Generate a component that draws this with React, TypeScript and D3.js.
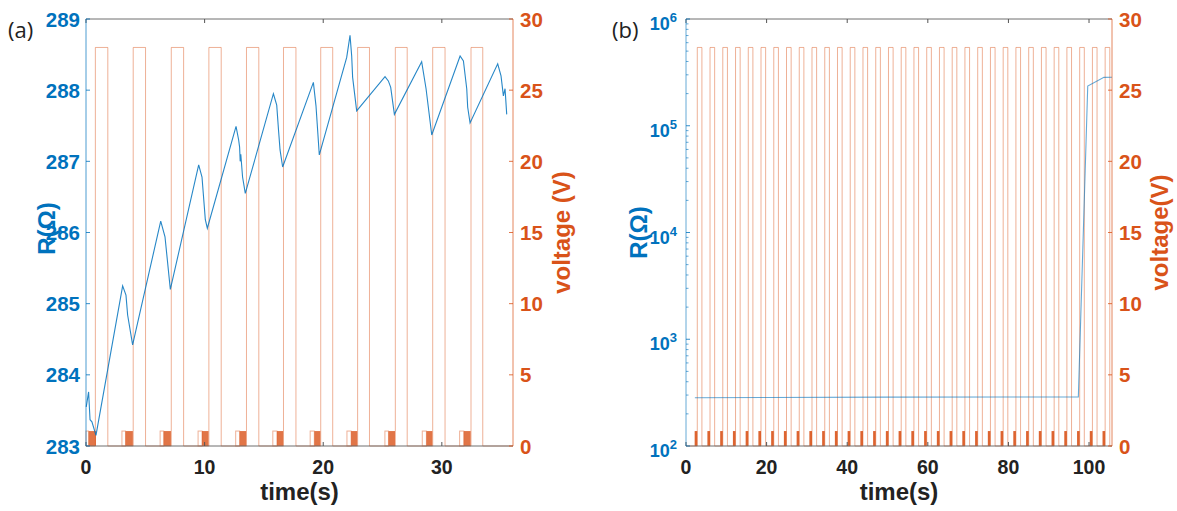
import React from 'react';
import * as d3 from 'd3';

const BLUE = '#0072BD';
const ORANGE = '#D95319';
const FONT = '"Liberation Sans", Arial, Helvetica, sans-serif';

// ---------- Panel (a) data ----------
const tA = [0.02, 0.22, 0.3, 0.34, 0.5, 0.84, 3.09, 3.37, 3.51, 3.93, 6.3, 6.66, 7.11, 9.5, 9.78, 10.06, 10.23,
  12.65, 12.87, 12.95, 13.0, 13.05, 13.2, 13.43, 15.8, 16.08, 16.24, 16.36, 16.58, 19.17, 19.39, 19.67,
  21.98, 22.26, 22.4, 22.48, 22.82, 25.21, 25.49, 25.69, 26.0, 28.3, 28.67, 29.15, 31.54, 31.82, 32.1,
  32.18, 32.38, 34.71, 34.99, 35.19, 35.33, 35.47];
const rA = [283.55, 283.76, 283.5, 283.37, 283.34, 283.15, 285.25, 285.12, 284.84, 284.42, 286.16, 285.94, 285.2,
  286.95, 286.78, 286.18, 286.06, 287.49, 287.3, 287.2, 287.0, 287.1, 286.78, 286.55, 287.95, 287.79, 287.42,
  287.16, 286.92, 288.11, 287.78, 287.09, 288.46, 288.77, 288.48, 288.18, 287.71, 288.19, 288.13, 288.04,
  287.66, 288.4, 288.02, 287.37, 288.48, 288.41, 288.02, 287.76, 287.54, 288.37, 288.2, 287.92, 288.02, 287.66];
const pulseOnA = [0.79, 3.98, 7.19, 10.36, 13.53, 16.65, 19.79, 22.9, 26.08, 29.23, 32.46];
const pulseOffA = [1.84, 5.02, 8.23, 11.4, 14.57, 17.7, 20.8, 23.9, 27.08, 30.27, 33.45];
const clusterStartA = [0.0, 3.03, 6.25, 9.45, 12.62, 15.75, 18.9, 22.0, 25.2, 28.35, 31.5];
const blockStartA = [0.22, 3.33, 6.55, 9.78, 12.95, 16.1, 19.25, 22.35, 25.5, 28.7, 31.85];
const clusterEndA = [0.84, 3.95, 7.16, 10.33, 13.5, 16.62, 19.76, 22.87, 26.05, 29.2, 32.43];
const xTicksA = [0, 10, 20, 30];
const yTicksA = [283, 284, 285, 286, 287, 288, 289];

// ---------- Panel (b) data ----------
const tB = [2.2, 20, 50, 80, 97.35, 99.68, 103.7, 105.7];
const rB = [283, 285, 287, 288, 288, 235000, 284000, 285000];
const pulseOnB = [2.8, 5.96, 9.13, 12.29, 15.45, 18.61, 21.78, 24.94, 28.1, 31.26, 34.43, 37.59, 40.75, 43.91,
  47.08, 50.24, 53.4, 56.56, 59.73, 62.89, 66.05, 69.21, 72.38, 75.54, 78.7, 81.86, 85.03, 88.19, 91.35,
  94.51, 97.68, 100.84, 104.0];
const pulseWidthB = 1.15;
const barStartB = [2.15, 5.31, 8.48, 11.64, 14.8, 17.96, 21.13, 24.29, 27.45, 30.61, 33.78, 36.94, 40.1, 43.26,
  46.43, 49.59, 52.75, 55.91, 59.08, 62.24, 65.4, 68.56, 71.73, 74.89, 78.05, 81.21, 84.38, 87.54, 90.7,
  93.86, 97.03, 100.19, 103.35];
const xTicksB = [0, 20, 40, 60, 80, 100];
const yExpB = [2, 3, 4, 5, 6];

const vTicks = [0, 5, 10, 15, 20, 25, 30];
const V_TOP = 28;
const V_SMALL = 1.05;

const TOP = 19;
const BOTTOM = 446;
const LABEL_SIZE = 24;

function squareWave(on: number[], off: number[], xmax: number): [number, number][] {
  const pts: [number, number][] = [[0, 0]];
  on.forEach((s, i) => {
    pts.push([s, 0], [s, V_TOP], [off[i], V_TOP], [off[i], 0]);
  });
  pts.push([xmax, 0]);
  return pts;
}

function Frame({ x, yV, x0, x1, xTicks }: any) {
  return (
    <g>
      <line x1={x0} x2={x1} y1={TOP} y2={TOP} stroke="#6e6e6e" strokeWidth={1} />
      <line x1={x0} x2={x1} y1={BOTTOM} y2={BOTTOM} stroke="#6e6e6e" strokeWidth={1} />
      {xTicks.map((t: number) => (
        <g key={t}>
          <line x1={x(t)} x2={x(t)} y1={TOP} y2={TOP + 4} stroke="#555" />
          <line x1={x(t)} x2={x(t)} y1={BOTTOM} y2={BOTTOM - 4} stroke="#555" />
          <text x={x(t)} y={473.5} textAnchor="middle" fontFamily={FONT} fontWeight="bold" fontSize={19.5} fill="#222">{t}</text>
        </g>
      ))}
      <line x1={x1} x2={x1} y1={TOP} y2={BOTTOM} stroke={ORANGE} strokeOpacity={0.7} strokeWidth={1} />
      {vTicks.map((v) => (
        <g key={v}>
          <line x1={x1} x2={x1 - 4} y1={yV(v)} y2={yV(v)} stroke={ORANGE} strokeOpacity={0.8} />
          <text x={x1 + 7} y={yV(v) + 7.5} fontFamily={FONT} fontWeight="bold" fontSize={20.5} fill={ORANGE}>{v}</text>
        </g>
      ))}
    </g>
  );
}

function PanelA() {
  const x0 = 86, x1 = 513;
  const x = d3.scaleLinear().domain([0, 36]).range([x0, x1]);
  const yR = d3.scaleLinear().domain([283, 289]).range([BOTTOM, TOP]);
  const yV = d3.scaleLinear().domain([0, 30]).range([BOTTOM, TOP]);
  const vLine = d3.line<[number, number]>().x((d) => x(d[0])).y((d) => yV(d[1]));
  const rLine = d3.line<number>().x((d, i) => x(tA[i])).y((d) => yR(d));
  return (
    <g>
      <path d={vLine(squareWave(pulseOnA, pulseOffA, 36)) || ''} fill="none" stroke={ORANGE} strokeOpacity={0.45} strokeWidth={1} />
      {clusterStartA.map((s, i) => (
        <g key={i}>
          <rect x={x(s)} y={yV(V_SMALL)} width={x(blockStartA[i]) - x(s)} height={yV(0) - yV(V_SMALL)}
            fill="none" stroke={ORANGE} strokeOpacity={0.45} strokeWidth={1} />
          <rect x={x(blockStartA[i])} y={yV(V_SMALL)} width={x(clusterEndA[i]) - x(blockStartA[i])}
            height={yV(0) - yV(V_SMALL)} fill={ORANGE} fillOpacity={0.8} />
        </g>
      ))}
      <path d={rLine(rA) || ''} fill="none" stroke={BLUE} strokeOpacity={0.85} strokeWidth={1.1} />
      <Frame x={x} yV={yV} x0={x0} x1={x1} xTicks={xTicksA} />
      <line x1={x0} x2={x0} y1={TOP} y2={BOTTOM} stroke={BLUE} strokeOpacity={0.7} strokeWidth={1} />
      {yTicksA.map((v) => (
        <g key={v}>
          <line x1={x0} x2={x0 + 4} y1={yR(v)} y2={yR(v)} stroke={BLUE} strokeOpacity={0.8} />
          <text x={80} y={yR(v) + 7.5} textAnchor="end" fontFamily={FONT} fontWeight="bold" fontSize={20.5} fill={BLUE}>{v}</text>
        </g>
      ))}
      <text x={(x0 + x1) / 2} y={500} textAnchor="middle" fontFamily={FONT} fontWeight="bold" fontSize={LABEL_SIZE} fill="#222">time(s)</text>
      <text transform={`translate(55,${(TOP + BOTTOM) / 2 - 4}) rotate(-90)`} textAnchor="middle" fontFamily={FONT} fontWeight="bold" fontSize={LABEL_SIZE} fill={BLUE}>R(Ω)</text>
      <text transform={`translate(570,${(TOP + BOTTOM) / 2}) rotate(-90)`} textAnchor="middle" fontFamily={FONT} fontWeight="bold" fontSize={LABEL_SIZE} fill={ORANGE}>voltage (V)</text>
      <text x={8} y={38} fontFamily='"Open Sans", "Noto Sans", sans-serif' fontSize={22} fill="#222">(a)</text>
    </g>
  );
}

function PanelB() {
  const x0 = 686, x1 = 1112;
  const xmax = 105.7;
  const x = d3.scaleLinear().domain([0, xmax]).range([x0, x1]);
  const yR = d3.scaleLog().domain([100, 1e6]).range([BOTTOM, TOP]);
  const yV = d3.scaleLinear().domain([0, 30]).range([BOTTOM, TOP]);
  const vLine = d3.line<[number, number]>().x((d) => x(d[0])).y((d) => yV(d[1]));
  const rLine = d3.line<number>().x((d, i) => x(tB[i])).y((d) => yR(d));
  const offB = pulseOnB.map((s) => s + pulseWidthB);
  const minor: number[] = [];
  [2, 3, 4, 5].forEach((e) => {
    for (let m = 2; m <= 9; m++) minor.push(m * Math.pow(10, e));
  });
  return (
    <g>
      <path d={vLine(squareWave(pulseOnB, offB, xmax)) || ''} fill="none" stroke={ORANGE} strokeOpacity={0.45} strokeWidth={1} />
      {barStartB.map((s, i) => (
        <rect key={i} x={x(s)} y={yV(V_SMALL)} width={x(pulseOnB[i]) - x(s)} height={yV(0) - yV(V_SMALL)} fill={ORANGE} fillOpacity={0.9} />
      ))}
      <path d={rLine(rB) || ''} fill="none" stroke={BLUE} strokeOpacity={0.6} strokeWidth={1.1} />
      <Frame x={x} yV={yV} x0={x0} x1={x1} xTicks={xTicksB} />
      <line x1={x0} x2={x0} y1={TOP} y2={BOTTOM} stroke={BLUE} strokeOpacity={0.6} strokeWidth={1} />
      {minor.map((v) => (
        <line key={v} x1={x0} x2={x0 + 2.5} y1={yR(v)} y2={yR(v)} stroke={BLUE} strokeOpacity={0.6} />
      ))}
      {yExpB.map((e) => (
        <g key={e}>
          <line x1={x0} x2={x0 + 4} y1={yR(Math.pow(10, e))} y2={yR(Math.pow(10, e))} stroke={BLUE} strokeOpacity={0.8} />
          <text x={677} y={yR(Math.pow(10, e)) + 11} textAnchor="end" fontFamily={FONT} fontWeight="bold" fontSize={18} fill={BLUE}>
            10<tspan dy={-8} fontSize={13}>{e}</tspan>
          </text>
        </g>
      ))}
      <text x={(x0 + x1) / 2} y={500} textAnchor="middle" fontFamily={FONT} fontWeight="bold" fontSize={LABEL_SIZE} fill="#222">time(s)</text>
      <text transform={`translate(647,${(TOP + BOTTOM) / 2}) rotate(-90)`} textAnchor="middle" fontFamily={FONT} fontWeight="bold" fontSize={LABEL_SIZE} fill={BLUE}>R(Ω)</text>
      <text transform={`translate(1168,${(TOP + BOTTOM) / 2}) rotate(-90)`} textAnchor="middle" fontFamily={FONT} fontWeight="bold" fontSize={LABEL_SIZE} fill={ORANGE}>voltage(V)</text>
      <text x={612} y={38} fontFamily='"Open Sans", "Noto Sans", sans-serif' fontSize={22} fill="#222">(b)</text>
    </g>
  );
}

export default function App() {
  return (
    <svg width={1177} height={511} style={{ position: 'absolute', left: 0, top: 0, background: '#fff' }}>
      <rect width={1177} height={511} fill="#fff" />
      <PanelA />
      <PanelB />
    </svg>
  );
}
